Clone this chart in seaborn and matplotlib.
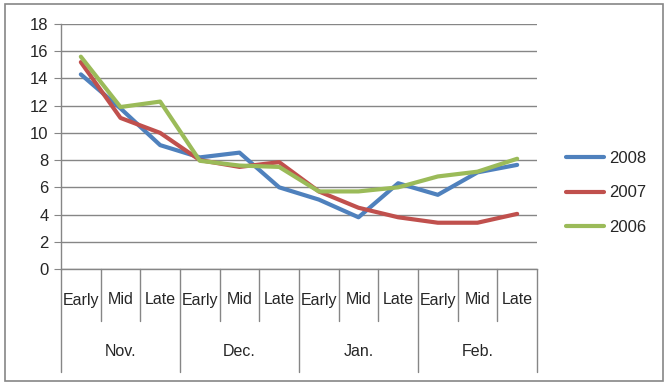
import matplotlib
matplotlib.use('Agg')
import matplotlib.pyplot as plt
import matplotlib.transforms as mtransforms
from matplotlib.patches import Rectangle
import seaborn as sns
import pandas as pd

# chart data
months = ['Nov.', 'Dec.', 'Jan.', 'Feb.']
periods = ['Early', 'Mid', 'Late']
years = ['2008', '2007', '2006']
vals_2008 = [14.3, 11.8, 9.1, 8.2, 8.55, 6.0, 5.1, 3.8, 6.3, 5.45, 7.1, 7.65]
vals_2007 = [15.2, 11.1, 10.0, 8.0, 7.5, 7.85, 5.7, 4.5, 3.8, 3.4, 3.4, 4.05]
vals_2006 = [15.6, 11.9, 12.3, 7.95, 7.6, 7.5, 5.7, 5.7, 6.0, 6.8, 7.15, 8.1]
colors = {'2008': '#4F81BD', '2007': '#C0504D', '2006': '#9BBB59'}

rows = []
for yr, vals in zip(years, [vals_2008, vals_2007, vals_2006]):
    for i, v in enumerate(vals):
        rows.append({'idx': i, 'value': v, 'year': yr})
df = pd.DataFrame(rows)

sns.set_style('white')
plt.rcParams['font.family'] = ['Liberation Sans', 'DejaVu Sans']

W, H = 667, 385
fig = plt.figure(figsize=(W / 100, H / 100), dpi=100)
ax = fig.add_axes([61 / W, 1 - 269 / H, (537 - 61) / W, (269 - 24) / H])

sns.lineplot(data=df, x='idx', y='value', hue='year', hue_order=years,
             palette=colors, linewidth=3, ax=ax, legend=True)

grid_c = '#868686'
ax.set_ylim(0, 18)
ax.set_xlim(-0.5, 11.5)
ax.set_yticks(range(0, 19, 2))
ax.yaxis.grid(True, color=grid_c, linewidth=1)
ax.set_axisbelow(True)
ax.set_xticks([])
ax.set_xlabel('')
ax.set_ylabel('')
for s in ['top', 'right']:
    ax.spines[s].set_visible(False)
for s in ['left', 'bottom']:
    ax.spines[s].set_color(grid_c)
    ax.spines[s].set_linewidth(1)
ax.tick_params(axis='y', length=5, color=grid_c, labelsize=12, pad=4,
               left=True, direction='out')

# multi-level category axis
trans = mtransforms.blended_transform_factory(ax.transData, fig.transFigure)
def fy(py):
    return 1 - py / H
for i in range(len(months) * len(periods)):
    ax.text(i, fy(300), periods[i % 3], transform=trans, ha='center',
            va='center', fontsize=11.5)
    if i % 3 != 0:
        ax.plot([i - 0.5, i - 0.5], [fy(269), fy(321)], transform=trans,
                color=grid_c, lw=1, clip_on=False)
for g, m in enumerate(months):
    ax.text(g * 3 + 1, fy(351), m, transform=trans, ha='center',
            va='center', fontsize=11.5)
for g in range(len(months) + 1):
    ax.plot([g * 3 - 0.5, g * 3 - 0.5], [fy(269), fy(372)], transform=trans,
            color=grid_c, lw=1, clip_on=False)

leg = ax.legend(loc='center left', bbox_to_anchor=(566 / W, fy(193)),
                bbox_transform=fig.transFigure, frameon=False, fontsize=12,
                handlelength=2.3, labelspacing=1.15, handletextpad=0.3,
                borderpad=0, borderaxespad=0)
for line in leg.get_lines():
    line.set_linewidth(3)

# outer chart border
fig.patches.append(Rectangle((5 / W, 1 - 381 / H), 658 / W, 377 / H,
                             transform=fig.transFigure, fill=False,
                             edgecolor=grid_c, linewidth=1.2))

fig.savefig('out.png', dpi=100)
